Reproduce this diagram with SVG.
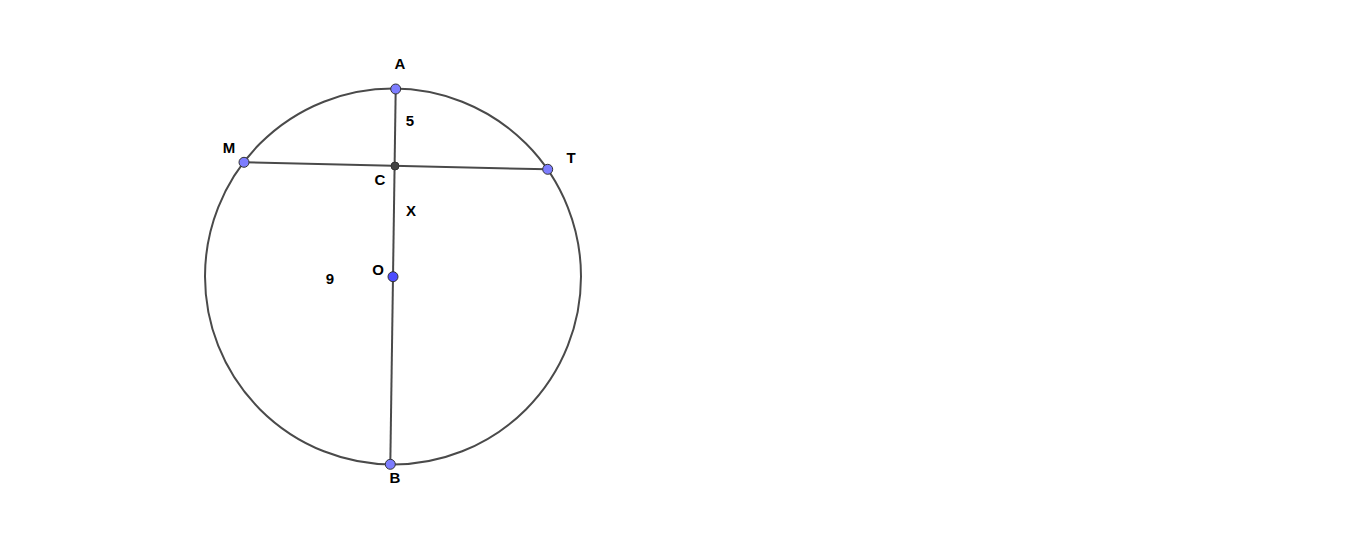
<svg xmlns="http://www.w3.org/2000/svg" width="1366" height="560" viewBox="0 0 1366 560">
<style>
.ln{stroke:#4a4a4a;stroke-width:2;fill:none}
.pt{stroke:#333;stroke-width:1}
.fp{fill:#7d7dff}
.fo{fill:#4d4dff}
.fc{fill:#444}
text{font-family:"Liberation Sans",Arial,sans-serif;font-size:15px;font-weight:bold;fill:#000;text-anchor:middle}
</style>
<rect width="1366" height="560" fill="#fff"/>
<g id="connectors">
<circle class="ln" cx="393" cy="276.5" r="188"/>
<line class="ln" x1="395.7" y1="89" x2="390.3" y2="464.3"/>
<line class="ln" x1="244" y1="162.3" x2="547.7" y2="169.3"/>
</g>
<g id="label-5"><text x="410" y="125.5">5</text></g>
<g id="label-X"><text x="411" y="215.5">X</text></g>
<g id="label-9"><text x="330" y="283.5">9</text></g>
<g id="A"><circle class="pt fp" cx="395.7" cy="89" r="5"/><text x="400" y="68.5">A</text></g>
<g id="M"><circle class="pt fp" cx="244" cy="162.3" r="5"/><text x="229" y="152.5">M</text></g>
<g id="T"><circle class="pt fp" cx="547.7" cy="169.3" r="5"/><text x="571" y="162.5">T</text></g>
<g id="C"><circle class="pt fc" cx="395" cy="166" r="4"/><text x="380" y="184.5">C</text></g>
<g id="O"><circle class="pt fo" cx="393" cy="276.7" r="5"/><text x="378" y="274.5">O</text></g>
<g id="B"><circle class="pt fp" cx="390.3" cy="464.3" r="5"/><text x="395" y="482.5">B</text></g>
</svg>
